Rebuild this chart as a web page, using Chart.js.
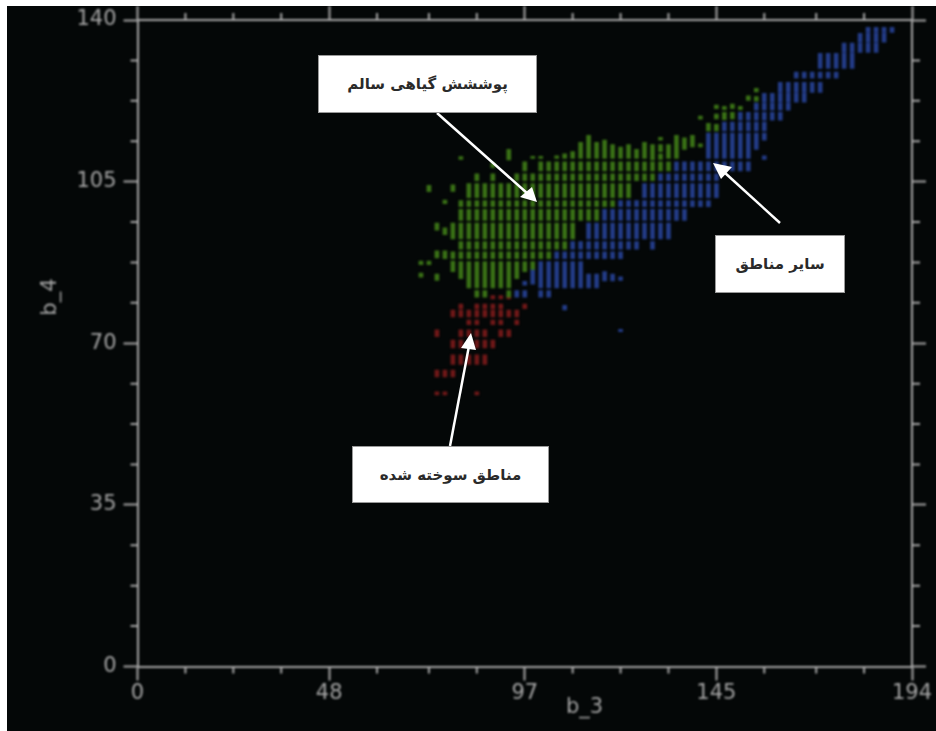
<!DOCTYPE html>
<html lang="fa">
<head>
<meta charset="UTF-8">
<title>b_3 / b_4 scatter</title>
<script src="https://cdn.jsdelivr.net/npm/chart.js"></script>
<style>
  html, body { margin: 0; background: #fff; }
  #page { position: relative; width: 936px; height: 731px; overflow: hidden; }
  #panel { position: absolute; left: 7px; top: 6px; width: 929px; height: 725px; background: #040707; overflow: hidden; }
  #plot { display: block; filter: blur(0.8px); }
  #arrows { position: absolute; left: 0; top: 0; }
  .note {
    position: absolute; box-sizing: border-box; background: #fff; border: 1px solid #999;
    display: flex; align-items: center; justify-content: center;
    font: bold 15px "DejaVu Sans", sans-serif; color: #2a2a2a; direction: rtl;
  }
</style>
</head>
<body>
<div id="page">
  <div id="panel"><canvas id="plot" width="929" height="725"></canvas></div>
  <svg id="arrows" width="936" height="731">
    <g stroke="#fff" stroke-width="2.5" fill="#fff">
      <line x1="437" y1="113" x2="528" y2="194"/>
      <polygon points="537,202 520,197 532,187" stroke="none"/>
      <line x1="780" y1="223" x2="724" y2="172"/>
      <polygon points="713,163 732,167 721,179" stroke="none"/>
      <line x1="450" y1="446" x2="469" y2="346"/>
      <polygon points="471,333 461,348 476,350" stroke="none"/>
    </g>
  </svg>
  <div class="note" style="left:318px;top:55px;width:219px;height:58px">پوششش گیاهی سالم</div>
  <div class="note" style="left:715px;top:235px;width:130px;height:58px">سایر مناطق</div>
  <div class="note" style="left:352px;top:446px;width:197px;height:57px">مناطق سوخته شده</div>
</div>

<script>
// axis ticks
const xMajorTicks = [0, 48, 97, 145, 194];
const xMinorTicks = [12, 24, 36, 60, 73, 85, 109, 121, 133, 157, 170, 182];
const yMajorTicks = [0, 35, 70, 105, 140];
const yMinorTicks = [8.75, 17.5, 26.25, 43.75, 52.5, 61.25, 78.75, 87.5, 96.25, 113.75, 122.5, 131.25];

// the raster has rows of cells along b_4, each letter is one row [lo, hi]
const rowBands = {
  A: [137.3, 138.4], B: [135.2, 137.1], C: [133, 135], D: [129.5, 132.8], E: [127.4, 128.7],
  F: [124.3, 126.5], G: [122.2, 124.1], H: [120.5, 122], I: [118.3, 120], J: [116, 117.9],
  K: [110, 115.5], L: [107.3, 109.3], M: [105.2, 106.7], N: [101.5, 104.6], O: [99.6, 100.9],
  P: [96.6, 99], Q: [92.6, 96], R: [90.4, 92], S: [88.3, 89.8], T: [82, 87.7], U: [80, 81.4],
  a: [79.6, 80.3], b: [77.5, 78.5], c: [75.7, 77.2], d: [74, 75], e: [71.4, 72.9],
  f: [69, 70.7], g: [65.4, 67.5], h: [62.7, 64.2], i: [58.8, 59.5]
};

// green: healthy vegetation, [b_3 column, rows]
const greenColumns = [
  [79, 'QS'], [81, 'OPQRS'], [83, 'NOPQRST'], [85, 'MNOPQRSTU'], [87, 'NOPQRSTU'],
  [89, 'MNOPQRST'], [91, 'NOPQRST'], [93, 'NOPQRSTU'], [95, 'MNOPQRS'], [97, 'LMNOPQRS'],
  [99, 'MNOPQRS'], [101, 'LMNOPQRS'], [103, 'LMNOPQRS'], [105, 'LMNOPQR'], [107, 'LMNOPQR'],
  [109, 'LMNOPQ'], [111, 'LMNOP'], [113, 'LMNOP'], [115, 'LMNOP'], [117, 'LMNO'],
  [119, 'LMNO'], [121, 'LMN'], [123, 'LMN'], [125, 'LM'], [127, 'LM'],
  [129, 'LM'], [131, 'L'], [133, 'L']
];
// short green cells that do not fill a whole row
const greenCells = [
  [71, 87, 87.8], [71, 84.3, 85.2], [73, 102.8, 104.2], [73, 87, 87.8], [75, 94.5, 96],
  [75, 88.5, 90], [75, 83.6, 85], [77, 100.2, 101], [77, 93.5, 95], [77, 88.3, 90],
  [79, 102.9, 104.3], [79, 85.5, 87.8], [81, 109.8, 110.4], [81, 84, 87.7], [89, 108, 109],
  [93, 109.7, 112], [95, 84, 87.7], [97, 85.5, 87.7], [99, 86, 87.7], [99, 110, 110.5], [101, 110, 110.5],
  [105, 110, 110.6], [107, 110, 111], [109, 110, 111.5], [111, 110, 113.5], [113, 110, 115], [115, 110, 113.5],
  [117, 110, 114], [119, 110, 113], [121, 110, 112.5], [123, 110, 113], [125, 110, 112], [127, 110, 113.5],
  [129, 109.7, 113], [131, 109.8, 111], [131, 111.5, 113], [131, 114, 114.6], [133, 110, 113], [135, 110, 115],
  [137, 112, 114.5], [139, 112.5, 115], [141, 112.5, 113.2], [141, 118.5, 119.2],
  [143, 116, 117.6], [145, 116, 117.4], [145, 118.6, 119.6], [145, 120.8, 121.6], [147, 118.4, 120],
  [147, 120.6, 121.3], [149, 118.6, 120], [149, 120.8, 121.8], [151, 120.6, 121.3], [153, 122.6, 123.6],
  [155, 122.4, 123.4], [155, 124.4, 125.2]
];

// blue: other areas
const blueColumns = [
  [101, 'TU'], [103, 'TU'], [105, 'ST'], [107, 'ST'], [109, 'RST'], [111, 'RST'], [113, 'QRS'],
  [115, 'QRS'], [117, 'PQRS'], [119, 'PQRS'], [121, 'OPQRS'], [123, 'OPQR'], [125, 'OPQR'],
  [127, 'NOPQ'], [129, 'NOPQR'], [131, 'MNOPQ'], [133, 'MNOPQ'], [135, 'LMNOP'], [137, 'LMNOP'],
  [139, 'LMNO'], [141, 'LMNO'], [143, 'KLMNO'], [145, 'KLMN'], [147, 'JKL'], [149, 'JKL'],
  [151, 'IJKL'], [153, 'IJKL'], [155, 'HIJ'], [157, 'GHIJ'], [159, 'GHI'], [161, 'FGHI'],
  [163, 'FGH'], [165, 'EFG'], [167, 'EFG'], [169, 'EF'], [171, 'DEF'], [173, 'DE'],
  [175, 'DE'], [177, 'CD'], [179, 'CD'], [181, 'BC'], [183, 'ABC'], [185, 'ABC'], [187, 'AB'], [189, 'A']
];
const blueCells = [
  [95, 80, 81.4], [97, 80, 81.4], [97, 82.6, 83.4], [99, 82.8, 86], [107, 77.2, 78.2], [113, 82, 85],
  [115, 82, 85], [117, 83.5, 85.5], [119, 83.5, 85], [121, 83.6, 84.4], [155, 112, 115.5], [157, 114, 115.5],
  [157, 109.8, 110.6], [121, 72.5, 73]
];

// red: burnt areas
const redColumns = [
  [75, 'ehi'], [77, 'hi'], [79, 'cfgh'], [81, 'bcefg'], [83, 'cdeg'], [85, 'bcdefgi'],
  [87, 'bcefg'], [89, 'abcdf'], [91, 'abcde'], [93, 'ace'], [95, 'cd'], [97, 'b']
];

function toSegments(columns, cells) {
  const segs = [];
  columns.forEach(([x, rows]) => {
    for (const r of rows) segs.push({ x: x, y: rowBands[r] });
  });
  (cells || []).forEach(([x, lo, hi]) => segs.push({ x: x, y: [lo, hi] }));
  return segs;
}

const AXIS = '#a8a8a8';
const LABEL = '#a6a6a6';
const LABEL_FONT = '"DejaVu Sans"';

// minor ticks are shorter than the major ones, and the axis names sit off-centre
const decorations = {
  id: 'decorations',
  afterDraw(chart) {
    const { ctx, scales } = chart;
    const { left, right, top, bottom } = chart.chartArea;
    ctx.save();
    ctx.strokeStyle = AXIS;
    ctx.lineWidth = 2;
    ctx.beginPath();
    xMinorTicks.forEach(v => {
      const p = scales.x.getPixelForValue(v);
      ctx.moveTo(p, bottom); ctx.lineTo(p, bottom + 7);
      ctx.moveTo(p, top); ctx.lineTo(p, top - 7);
    });
    yMinorTicks.forEach(v => {
      const p = scales.y.getPixelForValue(v);
      ctx.moveTo(left, p); ctx.lineTo(left - 7, p);
      ctx.moveTo(right, p); ctx.lineTo(right + 8, p);
    });
    ctx.stroke();

    ctx.fillStyle = LABEL;
    ctx.font = '21px ' + LABEL_FONT;
    ctx.textAlign = 'center';
    ctx.textBaseline = 'middle';
    ctx.fillText('b_3', scales.x.getPixelForValue(112), bottom + 41);
    ctx.translate(left - 87, scales.y.getPixelForValue(80));
    ctx.rotate(-Math.PI / 2);
    ctx.fillText('b_4', 0, 0);
    ctx.restore();
  }
};

function axisGrid() {
  return { drawOnChartArea: false, drawTicks: true, tickLength: 14, tickColor: AXIS, tickWidth: 2, offset: false };
}
const axisBorder = { display: true, color: AXIS, width: 2 };
const cell = { barThickness: 4, grouped: false };

new Chart(document.getElementById('plot'), {
  type: 'bar',
  data: {
    datasets: [
      { label: 'green', data: toSegments(greenColumns, greenCells), backgroundColor: '#3a7216', ...cell },
      { label: 'blue', data: toSegments(blueColumns, blueCells), backgroundColor: '#233c88', ...cell },
      { label: 'red', data: toSegments(redColumns), backgroundColor: '#701818', ...cell }
    ]
  },
  options: {
    responsive: false,
    animation: false,
    layout: { padding: 0 },
    plugins: { legend: { display: false }, tooltip: { enabled: false } },
    scales: {
      x: {
        type: 'linear', position: 'bottom', min: 0, max: 194, offset: false,
        grid: axisGrid(), border: axisBorder,
        afterBuildTicks: s => { s.ticks = xMajorTicks.map(v => ({ value: v })); },
        afterFit: s => { s.height = 64.5; s.paddingLeft = 0; s.paddingRight = 0; },
        ticks: { color: LABEL, font: { family: 'DejaVu Sans', size: 21 }, padding: 0, maxRotation: 0, autoSkip: false }
      },
      y: {
        type: 'linear', position: 'left', min: 0, max: 140,
        grid: axisGrid(), border: axisBorder,
        afterBuildTicks: s => { s.ticks = yMajorTicks.map(v => ({ value: v })); },
        afterFit: s => { s.width = 130.5; s.paddingTop = 0; s.paddingBottom = 0; },
        ticks: { color: LABEL, font: { family: 'DejaVu Sans', size: 21 }, padding: 7, autoSkip: false }
      },
      xTop: {
        type: 'linear', axis: 'x', position: 'top', min: 0, max: 194, offset: false,
        grid: axisGrid(), border: axisBorder,
        afterBuildTicks: s => { s.ticks = xMajorTicks.map(v => ({ value: v })); },
        afterFit: s => { s.height = 14; s.paddingLeft = 0; s.paddingRight = 0; },
        ticks: { callback: () => '', autoSkip: false }
      },
      yRight: {
        type: 'linear', axis: 'y', position: 'right', min: 0, max: 140,
        grid: axisGrid(), border: axisBorder,
        afterBuildTicks: s => { s.ticks = yMajorTicks.map(v => ({ value: v })); },
        afterFit: s => { s.width = 24; s.paddingTop = 0; s.paddingBottom = 0; },
        ticks: { callback: () => '', autoSkip: false }
      }
    }
  },
  plugins: [decorations]
});
</script>
</body>
</html>
